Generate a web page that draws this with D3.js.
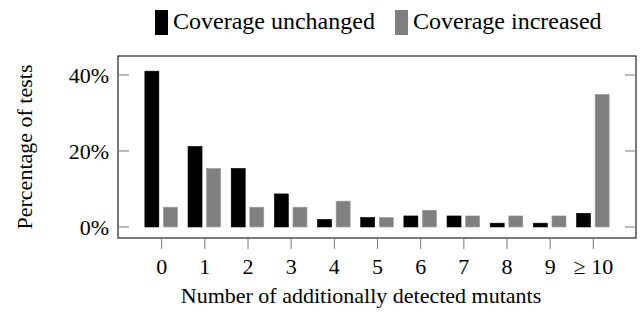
<!DOCTYPE html>
<html>
<head>
<meta charset="utf-8">
<script src="https://cdn.jsdelivr.net/npm/d3@7"></script>
<style>
  body { margin: 0; background: #fff; }
  svg { font-family: "Liberation Serif", "DejaVu Serif", serif; }
</style>
</head>
<body>
<div id="chart"></div>
<script>
// Categories and series (percent of tests)
const categories = ["0", "1", "2", "3", "4", "5", "6", "7", "8", "9", "≥ 10"];
const unchanged = [41.0, 21.2, 15.4, 8.7, 2.0, 2.5, 2.9, 2.9, 1.0, 1.0, 3.6];
const increased = [5.2, 15.4, 5.2, 5.2, 6.8, 2.5, 4.4, 2.9, 2.9, 2.9, 34.9];
const yTicks = [0, 20, 40];
const seriesNames = ["Coverage unchanged", "Coverage increased"];
const seriesColors = ["#000000", "#808080"];

const width = 644, height = 312;
const frame = {left: 118, right: 636, top: 56, bottom: 238};

const svg = d3.select('#chart')
    .append('svg')
    .attr('width', width)
    .attr('height', height);

const x = d3.scaleLinear()
    .domain([-1, categories.length])
    .range([frame.left, frame.right]);

const y = d3.scaleLinear()
    .domain([-2.9, 45])
    .range([frame.bottom, frame.top]);

const barW = 14;
const barOff = 9.3;

// frame
svg.append('rect')
    .attr('x', frame.left)
    .attr('y', frame.top)
    .attr('width', frame.right - frame.left)
    .attr('height', frame.bottom - frame.top)
    .attr('fill', 'none')
    .attr('stroke', '#222')
    .attr('stroke-width', 1.2);

// y ticks inside, left and right
yTicks.forEach(t => {
    svg.append('line')
        .attr('x1', frame.left).attr('x2', frame.left + 11)
        .attr('y1', y(t)).attr('y2', y(t))
        .attr('stroke', '#777').attr('stroke-width', 1);
    svg.append('line')
        .attr('x1', frame.right - 11).attr('x2', frame.right)
        .attr('y1', y(t)).attr('y2', y(t))
        .attr('stroke', '#777').attr('stroke-width', 1);
    svg.append('text')
        .attr('x', frame.left - 9)
        .attr('y', y(t))
        .attr('dy', '0.35em')
        .attr('text-anchor', 'end')
        .attr('font-size', 22)
        .text(t + '%');
});

// x ticks below frame
const xAxis = d3.axisBottom(x)
    .tickValues(d3.range(categories.length))
    .tickFormat(i => categories[i])
    .tickSize(11)
    .tickPadding(9)
    .tickSizeOuter(0);

const xg = svg.append('g')
    .attr('transform', `translate(0,${frame.bottom})`)
    .call(xAxis);
xg.select('.domain').remove();
xg.selectAll('line').attr('stroke', '#777');
xg.selectAll('text')
    .attr('font-size', 22)
    .attr('font-family', '"Liberation Serif", serif')
    .attr('fill', '#000');

// bars
const series = [unchanged, increased];
series.forEach((vals, s) => {
    svg.append('g')
        .selectAll('rect')
        .data(vals)
        .enter()
        .append('rect')
        .attr('x', (d, i) => x(i) + (s === 0 ? -barOff : barOff) - barW / 2)
        .attr('y', d => y(d))
        .attr('width', barW)
        .attr('height', d => y(0) - y(d))
        .attr('fill', seriesColors[s])
        .attr('stroke', s === 0 ? '#000' : '#999')
        .attr('stroke-width', 0.6);
});

// axis labels
svg.append('text')
    .attr('x', 361)
    .attr('y', 303)
    .attr('text-anchor', 'middle')
    .attr('font-size', 22)
    .text('Number of additionally detected mutants');

svg.append('text')
    .attr('transform', `translate(32,${(frame.top + frame.bottom) / 2}) rotate(-90)`)
    .attr('text-anchor', 'middle')
    .attr('font-size', 22)
    .text('Percentage of tests');

// legend
const legendX = [155, 395];
seriesNames.forEach((name, s) => {
    svg.append('rect')
        .attr('x', legendX[s])
        .attr('y', 10)
        .attr('width', 13)
        .attr('height', 25)
        .attr('fill', seriesColors[s]);
    svg.append('text')
        .attr('x', legendX[s] + 18)
        .attr('y', 29)
        .attr('font-size', 24)
        .text(name);
});
</script>
</body>
</html>
